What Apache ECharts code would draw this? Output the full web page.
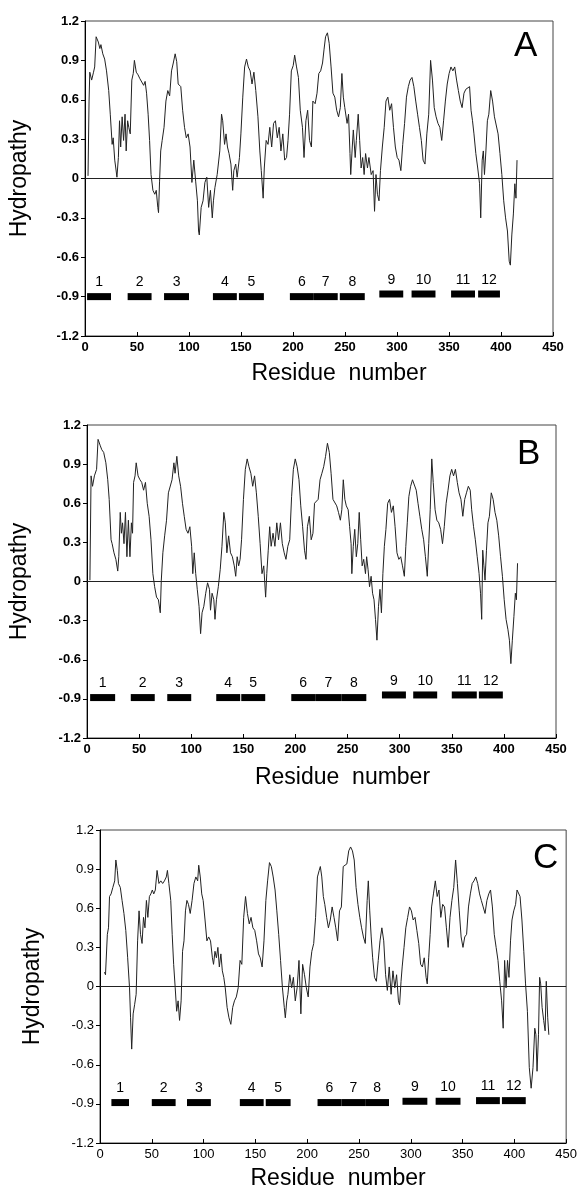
<!DOCTYPE html>
<html lang="en">
<head>
<meta charset="UTF-8">
<title>Hydropathy plots</title>
<script src="https://cdn.jsdelivr.net/npm/echarts@6/dist/echarts.min.js"></script>
<style>html,body{margin:0;padding:0;background:#fff;}</style>
</head>
<body>
<div id="main" style="width:580px;height:1192px;"></div>
<script>
// hydropathy profiles: [residue, value]
var curveA = [
  [2.9,0.02],[3.9,0.59],[4.6,0.81],[6.4,0.75],[8.2,0.81],[9.3,0.85],[10.7,1.08],[12.8,1.04],[14.3,0.99],[15.3,1.02],
  [17.1,0.95],[18.9,0.91],[20.7,0.82],[22.8,0.67],[24.3,0.49],[26.1,0.26],[27.1,0.31],[28.6,0.14],[29.6,0.08],[30.7,0.01],
  [32.1,0.16],[33.2,0.44],[34.3,0.24],[35.7,0.47],[37.1,0.29],[38.5,0.49],[39.6,0.21],[41.0,0.44],[42.1,0.39],[43.5,0.34],
  [45.0,0.75],[46.4,0.8],[47.5,0.9],[49.3,0.81],[51.0,0.79],[52.8,0.76],[54.6,0.76],[56.4,0.71],[57.8,0.74],[59.2,0.65],
  [60.7,0.49],[62.1,0.29],[63.5,0.03],[65.3,-0.09],[67.1,-0.12],[68.5,-0.09],[70.0,-0.22],[70.7,-0.26],[71.7,-0.02],[72.8,0.21],
  [74.2,0.29],[76.0,0.39],[77.8,0.59],[79.6,0.67],[81.4,0.63],[83.2,0.82],[84.9,0.88],[86.7,0.95],[88.2,0.89],[89.6,0.72],
  [92.1,0.7],[93.9,0.52],[95.7,0.39],[97.4,0.31],[99.2,0.34],[101.0,0.24],[102.1,0.08],[102.8,-0.03],[104.6,0.14],[106.4,-0.02],
  [108.1,-0.17],[109.2,-0.4],[109.9,-0.43],[111.7,-0.22],[113.5,-0.17],[115.3,-0.03],[117.1,0.01],[118.9,-0.22],[120.6,-0.09],[122.4,-0.3],
  [123.5,-0.17],[124.9,-0.07],[127.1,0.03],[129.6,0.21],[131.3,0.49],[132.4,0.44],[134.2,0.26],[135.6,0.34],[137.0,0.24],[138.5,0.19],
  [140.3,0.11],[142.0,-0.09],[143.1,0.06],[144.9,0.11],[146.3,0.01],[148.5,0.16],[149.9,0.34],[151.7,0.62],[153.5,0.85],[155.3,0.91],
  [157.0,0.85],[158.8,0.82],[160.6,0.72],[162.4,0.81],[164.2,0.67],[166.3,0.47],[168.1,0.21],[169.5,0.06],[171.3,-0.15],[172.4,0.08],
  [174.2,0.29],[176.0,0.26],[177.7,0.39],[179.5,0.24],[181.3,0.42],[183.1,0.44],[184.9,0.31],[186.7,0.39],[188.4,0.21],[190.2,0.34],
  [192.0,0.14],[193.8,0.16],[195.2,0.29],[196.7,0.49],[198.4,0.82],[200.2,0.86],[201.6,0.94],[203.4,0.85],[205.2,0.77],[207.0,0.52],
  [209.1,0.39],[210.6,0.16],[212.4,0.44],[214.1,0.52],[215.9,0.29],[217.7,0.24],[219.1,0.59],[221.3,0.57],[223.1,0.65],[224.8,0.8],
  [226.6,0.82],[228.4,0.88],[229.8,0.98],[231.3,1.08],[233.1,1.11],[234.8,1.03],[236.6,0.85],[238.4,0.65],[240.2,0.62],[242.0,0.52],
  [243.8,0.47],[245.5,0.54],[247.0,0.8],[248.4,0.62],[249.8,0.54],[252.0,0.42],[253.4,0.49],[254.8,0.19],[255.5,0.03],[257.0,0.24],
  [258.0,0.37],[259.8,0.16],[260.9,0.29],[262.7,0.49],[264.1,0.29],[265.5,0.08],[267.0,0.16],[268.4,0.03],[269.8,0.19],[271.6,0.08],
  [273.0,0.16],[275.2,0.03],[277.0,0.06],[278.4,-0.25],[279.8,0.03],[281.2,-0.12],[282.7,-0.17],[284.1,0.06],[285.9,0.24],[287.7,0.39],
  [289.4,0.59],[291.2,0.62],[293.0,0.52],[294.8,0.57],[296.6,0.39],[298.4,0.24],[300.2,0.16],[301.9,0.14],[303.7,0.06],[305.5,0.26],
  [307.3,0.42],[309.1,0.62],[310.9,0.7],[312.6,0.75],[314.4,0.77],[316.2,0.7],[318.0,0.59],[319.8,0.49],[321.6,0.39],[323.4,0.29],
  [325.1,0.14],[326.9,0.11],[328.7,0.34],[330.5,0.49],[332.3,0.9],[334.1,0.75],[335.8,0.54],[337.6,0.47],[339.4,0.42],[341.2,0.39],
  [343.0,0.29],[344.8,0.44],[346.5,0.59],[348.3,0.72],[350.1,0.8],[351.9,0.85],[353.7,0.82],[355.5,0.85],[357.3,0.75],[359.0,0.67],
  [360.8,0.59],[362.6,0.54],[364.4,0.65],[366.2,0.68],[368.0,0.67],[369.8,0.7],[371.2,0.52],[372.6,0.44],[374.0,0.34],[375.8,0.19],
  [377.6,0.08],[379.4,-0.04],[380.5,-0.3],[381.9,0.14],[383.0,0.21],[384.1,0.03],[385.5,0.21],[386.9,0.44],[388.3,0.49],[390.1,0.67],
  [391.9,0.59],[393.7,0.47],[395.4,0.47],[397.2,0.34],[399.0,0.19],[400.8,0.03],[402.6,-0.17],[404.4,-0.3],[406.2,-0.4],[407.9,-0.63],
  [409.0,-0.66],[410.4,-0.43],[411.9,-0.27],[413.3,-0.04],[414.4,-0.15],[415.4,0.14]
];

var curveB = [
  [2.8,0.01],[3.9,0.81],[5.3,0.73],[7.1,0.81],[9.2,0.86],[10.6,1.09],[12.8,1.04],[14.2,1.01],[16.0,0.99],[18.1,0.91],
  [19.9,0.78],[21.3,0.63],[23.1,0.32],[24.1,0.29],[25.9,0.22],[27.7,0.17],[29.5,0.08],[30.5,0.19],[31.9,0.53],[33.0,0.37],
  [34.1,0.45],[35.5,0.29],[36.9,0.53],[38.3,0.19],[39.7,0.47],[41.2,0.19],[42.6,0.45],[43.7,0.37],[44.7,0.76],[46.1,0.81],
  [47.2,0.91],[49.0,0.81],[50.8,0.78],[52.5,0.76],[54.3,0.7],[56.1,0.76],[57.8,0.6],[59.6,0.5],[61.4,0.32],[63.2,0.06],
  [64.9,-0.04],[66.7,-0.12],[68.5,-0.14],[70.3,-0.24],[71.3,0.01],[72.8,0.22],[74.5,0.35],[76.3,0.47],[78.1,0.68],[79.9,0.68],
  [81.6,0.78],[83.4,0.91],[84.5,0.83],[86.2,0.96],[88.0,0.81],[89.8,0.73],[91.6,0.6],[93.3,0.5],[95.1,0.4],[96.9,0.37],
  [98.7,0.42],[100.4,0.27],[101.5,0.06],[102.9,0.22],[104.3,0.06],[105.8,-0.06],[107.5,-0.19],[109.0,-0.4],[110.4,-0.24],[112.1,-0.19],
  [113.9,-0.09],[115.7,-0.01],[117.5,-0.06],[118.5,-0.22],[120.0,-0.09],[121.7,-0.14],[122.8,-0.29],[124.2,-0.14],[126.0,-0.04],[127.8,0.09],
  [129.5,0.27],[131.3,0.53],[132.7,0.45],[134.2,0.22],[135.9,0.35],[137.7,0.22],[139.5,0.19],[141.3,0.12],[142.7,0.04],[144.1,0.19],
  [145.5,0.12],[146.9,0.17],[148.3,0.32],[150.1,0.63],[151.9,0.86],[153.7,0.94],[155.4,0.88],[157.2,0.83],[159.0,0.73],[160.8,0.81],
  [162.5,0.68],[164.3,0.5],[166.1,0.29],[167.9,0.06],[169.6,0.12],[171.4,-0.12],[172.5,0.06],[173.9,0.24],[175.3,0.42],[176.7,0.27],
  [178.5,0.37],[180.3,0.27],[182.1,0.45],[183.8,0.32],[185.6,0.45],[187.4,0.29],[189.2,0.22],[190.9,0.17],[192.7,0.27],[194.5,0.32],
  [196.3,0.65],[198.0,0.86],[199.8,0.94],[201.6,0.88],[203.4,0.78],[205.1,0.58],[206.9,0.42],[208.7,0.24],[210.1,0.17],[211.5,0.42],
  [213.3,0.5],[215.1,0.32],[216.8,0.37],[218.3,0.6],[220.0,0.6],[221.8,0.63],[223.6,0.78],[225.4,0.83],[227.1,0.88],[228.9,0.96],
  [230.7,1.06],[232.5,0.99],[234.2,0.83],[236.0,0.63],[237.8,0.63],[239.6,0.58],[241.3,0.53],[243.1,0.47],[244.5,0.55],[245.9,0.78],
  [247.4,0.63],[248.8,0.58],[250.6,0.55],[252.0,0.42],[253.4,0.29],[254.1,0.06],[255.5,0.27],[256.9,0.4],[258.4,0.19],[259.8,0.29],
  [261.2,0.53],[262.6,0.32],[264.0,0.12],[265.5,0.17],[267.2,0.06],[268.3,0.19],[269.7,0.09],[271.1,-0.04],[272.6,0.04],[274.0,-0.09],
  [275.4,-0.14],[276.8,-0.29],[278.2,-0.45],[279.7,-0.19],[281.1,-0.06],[282.5,-0.24],[283.9,0.06],[285.3,0.27],[286.8,0.4],[288.5,0.6],
  [290.3,0.63],[292.1,0.53],[293.9,0.58],[295.6,0.42],[297.4,0.22],[299.2,0.17],[301.0,0.19],[302.7,0.12],[304.5,0.04],[305.9,0.27],
  [307.3,0.45],[308.8,0.65],[310.5,0.73],[312.3,0.78],[314.1,0.78],[315.9,0.7],[317.6,0.6],[319.4,0.5],[321.2,0.4],[323.0,0.32],
  [324.7,0.19],[326.5,0.04],[327.9,0.29],[329.3,0.55],[330.8,0.94],[332.2,0.76],[334.0,0.55],[335.7,0.47],[337.5,0.45],[339.3,0.4],
  [341.1,0.29],[342.8,0.42],[344.6,0.6],[346.4,0.7],[348.2,0.81],[349.9,0.86],[351.7,0.81],[353.5,0.86],[355.3,0.76],[357.0,0.68],
  [358.8,0.63],[360.6,0.5],[362.4,0.63],[364.1,0.68],[365.9,0.73],[367.7,0.7],[369.1,0.55],[370.9,0.42],[372.6,0.32],[374.4,0.19],
  [376.2,0.06],[377.6,-0.09],[378.7,-0.29],[379.7,0.24],[380.8,0.12],[381.9,0.01],[383.3,0.24],[384.7,0.45],[386.1,0.5],[387.9,0.68],
  [389.7,0.63],[391.5,0.53],[393.2,0.47],[395.0,0.35],[396.8,0.19],[398.6,0.04],[400.3,-0.14],[402.1,-0.29],[403.9,-0.37],[405.3,-0.45],
  [406.7,-0.63],[408.1,-0.45],[409.6,-0.27],[411.0,-0.09],[412.0,-0.14],[413.1,0.14]
];

var curveC = [
  [4.3,0.11],[5.3,0.09],[7.1,0.4],[8.2,0.45],[9.2,0.69],[10.7,0.71],[12.4,0.76],[14.2,0.81],[15.3,0.97],[16.7,0.89],
  [17.8,0.79],[19.6,0.76],[21.3,0.66],[23.1,0.56],[24.9,0.43],[26.7,0.22],[28.5,-0.01],[29.5,-0.24],[30.6,-0.48],[32.0,-0.21],
  [33.4,-0.14],[34.9,-0.06],[36.3,0.35],[37.7,0.58],[39.1,0.4],[40.6,0.33],[42.0,0.53],[43.4,0.45],[44.8,0.66],[46.2,0.53],
  [47.7,0.69],[49.1,0.71],[50.5,0.74],[51.9,0.71],[53.4,0.74],[55.1,0.89],[56.9,0.79],[58.7,0.81],[60.5,0.79],[62.2,0.81],
  [64.0,0.84],[65.1,0.89],[66.5,0.79],[68.3,0.66],[69.7,0.4],[71.1,0.17],[72.6,-0.01],[74.0,-0.19],[75.4,-0.11],[76.8,-0.26],
  [78.3,-0.11],[79.7,0.27],[81.1,0.35],[82.5,0.58],[83.9,0.66],[85.4,0.63],[87.1,0.56],[88.9,0.66],[90.7,0.79],[92.5,0.84],
  [94.3,0.81],[95.3,0.93],[96.8,0.84],[98.2,0.71],[99.6,0.66],[101.4,0.51],[103.2,0.35],[104.9,0.38],[106.7,0.35],[108.5,0.22],
  [109.6,0.17],[111.0,0.27],[112.4,0.22],[113.8,0.3],[115.2,0.15],[116.7,0.25],[118.1,0.12],[119.5,0.07],[120.9,-0.01],[122.7,-0.16],
  [124.5,-0.24],[126.3,-0.29],[128.1,-0.16],[129.8,-0.11],[131.6,-0.08],[133.4,-0.01],[135.2,0.2],[136.9,0.17],[138.7,0.53],[140.5,0.69],
  [142.3,0.56],[144.1,0.48],[145.8,0.53],[147.6,0.45],[149.4,0.43],[151.2,0.35],[153.0,0.25],[154.7,0.22],[156.5,0.15],[158.3,0.35],
  [160.1,0.66],[161.8,0.81],[163.6,0.95],[165.4,0.92],[167.2,0.84],[169.0,0.74],[170.7,0.58],[172.5,0.4],[174.3,0.2],[176.1,-0.01],
  [177.9,-0.16],[178.9,-0.24],[180.3,-0.11],[181.4,-0.06],[183.2,0.09],[185.0,-0.01],[186.7,0.07],[188.5,-0.11],[190.3,-0.01],[192.1,0.2],
  [193.9,-0.21],[195.6,0.17],[197.4,0.09],[199.2,-0.01],[201.0,-0.08],[202.7,0.15],[204.5,0.27],[206.3,0.33],[208.1,0.53],[209.9,0.84],
  [211.6,0.89],[212.7,0.92],[214.1,0.84],[215.6,0.69],[217.0,0.63],[218.8,0.53],[220.5,0.45],[222.3,0.51],[224.1,0.61],[225.9,0.53],
  [227.6,0.45],[229.4,0.35],[231.2,0.58],[233.0,0.61],[234.8,0.92],[236.5,0.92],[238.3,0.94],[240.1,1.04],[241.9,1.07],[243.7,1.04],
  [245.4,0.97],[247.2,0.76],[249.0,0.63],[250.8,0.53],[252.5,0.45],[254.3,0.38],[256.1,0.33],[257.9,0.66],[259.0,0.81],[260.4,0.58],
  [261.8,0.38],[263.2,0.22],[265.0,0.07],[266.8,0.04],[268.6,0.2],[270.3,0.35],[272.1,0.45],[273.9,0.35],[275.7,0.09],[277.4,-0.03],
  [279.2,0.15],[281.0,-0.06],[282.8,0.12],[284.6,-0.01],[286.3,0.09],[288.1,-0.11],[289.2,-0.14],[290.6,0.04],[291.7,0.15],[293.5,0.3],
  [295.2,0.45],[297.0,0.53],[298.8,0.61],[300.6,0.58],[302.3,0.51],[304.1,0.53],[305.9,0.43],[307.7,0.33],[309.5,0.17],[311.2,0.15],
  [313.0,0.22],[314.8,0.07],[315.9,0.02],[317.3,0.22],[318.7,0.4],[320.1,0.61],[321.9,0.71],[323.7,0.81],[325.5,0.69],[327.2,0.74],
  [329.0,0.53],[330.8,0.63],[332.6,0.61],[334.4,0.45],[336.1,0.3],[337.9,0.53],[339.7,0.66],[341.5,0.76],[343.3,0.97],[345.0,0.79],
  [346.8,0.58],[348.6,0.38],[350.4,0.3],[352.1,0.38],[353.9,0.4],[355.7,0.61],[357.5,0.71],[359.3,0.79],[361.0,0.81],[362.8,0.84],
  [364.6,0.79],[366.4,0.71],[368.1,0.66],[369.9,0.61],[371.7,0.56],[373.5,0.66],[375.3,0.71],[377.0,0.74],[378.8,0.61],[380.6,0.4],
  [382.4,0.3],[384.2,0.2],[385.9,0.04],[387.7,-0.11],[389.2,-0.32],[390.6,0.2],[392.0,-0.01],[393.4,0.2],[394.8,0.07],[396.3,0.35],
  [397.7,0.51],[399.4,0.58],[401.2,0.63],[402.6,0.74],[404.4,0.74],[405.5,0.69],[407.3,0.51],[409.1,0.27],[410.8,0.02],[412.6,-0.19],
  [414.4,-0.62],[416.2,-0.78],[418.0,-0.62],[419.7,-0.32],[420.8,-0.37],[421.9,-0.65],[423.3,-0.37],[424.4,0.07],[425.4,0.02],[426.8,-0.16],
  [428.3,-0.26],[429.7,-0.34],[430.8,0.04],[432.2,-0.24],[433.3,-0.37]
];

// transmembrane segments: [start, end, level, number]
var segsA = [
  [2,25,-0.9,1],[41,64,-0.9,2],[76,100,-0.9,3],[123,146,-0.9,4],[148,172,-0.9,5],[197,220,-0.9,6],
  [220,243,-0.9,7],[245,269,-0.9,8],[283,306,-0.88,9],[314,337,-0.88,10],[352,375,-0.88,11],[378,399,-0.88,12]
];
var segsB = [
  [3,27,-0.89,1],[42,65,-0.89,2],[77,100,-0.89,3],[124,147,-0.89,4],[148,171,-0.89,5],[196,219,-0.89,6],
  [219,244,-0.89,7],[244,268,-0.89,8],[283,306,-0.87,9],[313,336,-0.87,10],[350,374,-0.87,11],[376,399,-0.87,12]
];
var segsC = [
  [11,28,-0.89,1],[50,73,-0.89,2],[84,107,-0.89,3],[135,158,-0.89,4],[160,184,-0.89,5],[210,233,-0.89,6],
  [233,256,-0.89,7],[256,279,-0.89,8],[292,316,-0.88,9],[324,348,-0.88,10],[363,386,-0.875,11],[388,411,-0.875,12]
];

var panelLetters = ['A', 'B', 'C'];

var FONT = '"Liberation Sans", Arial, Helvetica, sans-serif';

var panels = [
  { curve: curveA, segs: segsA, grid: { left: 84, top: 21, width: 469, height: 315 }, bold: 'bold', xGap: 26, xShift: 40, yGap: 54, letter: { left: 514, top: 29 } },
  { curve: curveB, segs: segsB, grid: { left: 86, top: 425, width: 470, height: 313 }, bold: 'bold', xGap: 28, xShift: 42, yGap: 56, letter: { left: 517, top: 437 } },
  { curve: curveC, segs: segsC, grid: { left: 100, top: 830, width: 470, height: 313 }, bold: 'normal', xGap: 24, xShift: 10, yGap: 56, letter: { left: 533, top: 841 } }
];

function renderSeg(params, api) {
  var a = api.coord([api.value(0), api.value(2)]);
  var b = api.coord([api.value(1), api.value(2)]);
  return {
    type: 'group',
    children: [
      { type: 'rect', shape: { x: a[0], y: a[1] - 3.5, width: b[0] - a[0], height: 7 }, style: { fill: '#000' } },
      { type: 'text', x: (a[0] + b[0]) / 2, y: a[1] - 7,
        style: { text: String(api.value(3)), fill: '#000', font: '14px ' + FONT, align: 'center', verticalAlign: 'bottom' } }
    ]
  };
}

var myChart = echarts.init(document.getElementById('main'));

var option = { animation: false, backgroundColor: '#fff', title: [], grid: [], xAxis: [], yAxis: [], series: [] };

panels.forEach(function (p, i) {
  option.grid.push({ left: p.grid.left, top: p.grid.top, width: p.grid.width, height: p.grid.height,
    show: true, borderColor: '#444', borderWidth: 1 });

  option.title.push({ text: panelLetters[i], left: p.letter.left, top: p.letter.top, padding: 0,
    textStyle: { fontFamily: FONT, fontSize: 35, fontWeight: 'normal', color: '#000' } });

  option.xAxis.push({
    type: 'value', gridIndex: i, min: 0, max: 450, interval: 50,
    name: 'Residue  number', nameLocation: 'middle', nameGap: p.xGap,
    nameTextStyle: { fontFamily: FONT, fontSize: 23, color: '#000', padding: [0, 0, 0, p.xShift] },
    axisLine: { onZero: false, lineStyle: { color: '#000', width: 1 } },
    axisTick: { show: true, inside: true, length: 4, lineStyle: { color: '#000' } },
    axisLabel: { margin: 5, fontFamily: FONT, fontSize: 13, fontWeight: p.bold, color: '#000' },
    splitLine: { show: false }
  });

  option.yAxis.push({
    type: 'value', gridIndex: i, min: -1.2, max: 1.2, interval: 0.3,
    name: 'Hydropathy', nameLocation: 'middle', nameGap: p.yGap,
    nameTextStyle: { fontFamily: FONT, fontSize: 23, color: '#000' },
    axisLine: { onZero: false, lineStyle: { color: '#000', width: 1 } },
    axisTick: { show: true, inside: false, length: 4, lineStyle: { color: '#000' } },
    axisLabel: { margin: 6, fontFamily: FONT, fontSize: 13, fontWeight: p.bold, color: '#000',
      formatter: function (v) { return Math.abs(v) < 1e-9 ? '0' : v.toFixed(1); } },
    splitLine: { show: false }
  });

  option.series.push({
    type: 'line', xAxisIndex: i, yAxisIndex: i, data: p.curve,
    showSymbol: false, smooth: false,
    lineStyle: { color: '#222', width: 1 },
    markLine: { silent: true, symbol: 'none', label: { show: false },
      lineStyle: { color: '#222', width: 1, type: 'solid' }, data: [{ yAxis: 0 }] }
  });

  option.series.push({
    type: 'custom', xAxisIndex: i, yAxisIndex: i, data: p.segs,
    encode: { x: [0, 1], y: 2 }, renderItem: renderSeg
  });
});

myChart.setOption(option);
</script>
</body>
</html>
